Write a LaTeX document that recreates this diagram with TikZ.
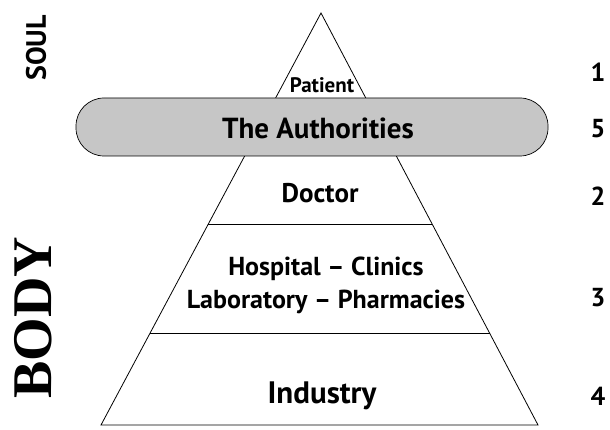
\documentclass[tikz,border=0pt]{standalone}
\usepackage{fontspec}
\setmainfont{PT Sans}
\usetikzlibrary{calc}
\begin{document}
\begin{tikzpicture}[x=1pt,y=-1pt,
  lbl/.style={font=\bfseries\fontsize{#1}{#1}\selectfont, inner sep=0pt, align=center},
  num/.style={font=\bfseries\fontsize{26}{26}\selectfont, inner sep=0pt},
  band/.style={draw=black, line width=0.7pt, fill=gray!45, rounded corners=28pt,
    minimum width=472pt, minimum height=58pt, inner sep=0pt}]
\useasboundingbox (0,0) rectangle (610,430);
\coordinate (apex) at (321,13);
\coordinate (bl) at (101,425);
\coordinate (br) at (538,425);
\draw[line width=0.8pt] (apex) -- (bl) -- (br) -- cycle;
\coordinate (l1) at ($(apex)!0.512!(bl)$);
\coordinate (r1) at ($(apex)!0.512!(br)$);
\coordinate (l2) at ($(apex)!0.778!(bl)$);
\coordinate (r2) at ($(apex)!0.778!(br)$);
\draw[line width=0.8pt] (l1) -- (r1);
\draw[line width=0.8pt] (l2) -- (r2);
\node[band] (auth) at (312,127) {};
\node[lbl=29] (authtext) at (318,128) {The Authorities};
\node[lbl=21] (patient) at (322,85) {Patient};
\node[lbl=27] (doctor) at (320,193) {Doctor};
\node[lbl=26, font=\bfseries\fontsize{26}{33}\selectfont] (hosp) at (326,285) {Hospital -- Clinics\\Laboratory -- Pharmacies};
\node[lbl=31] (industry) at (322,396) {Industry};
\node[num] (n1) at (598,72) {1};
\node[num] (n5) at (598,129) {5};
\node[num] (n2) at (598,196) {2};
\node[num] (n3) at (598,298) {3};
\node[num] (n4) at (598,396) {4};
\node[lbl=28, rotate=90] (soul) at (36,48) {SOUL};
\node[font=\fontspec{Liberation Serif}\bfseries\fontsize{56}{56}\selectfont, inner sep=0pt, rotate=90] (body) at (33,318) {BODY};
\end{tikzpicture}
\end{document}
